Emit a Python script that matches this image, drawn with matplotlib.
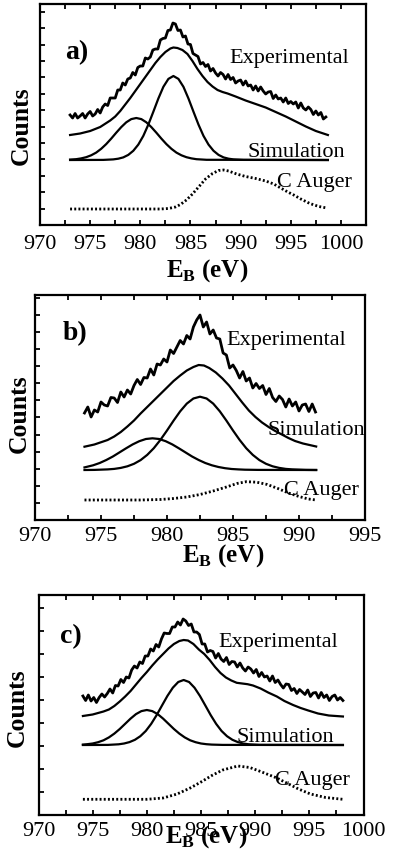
import numpy as np
import matplotlib
matplotlib.use('Agg')
import matplotlib.pyplot as plt
from matplotlib.ticker import MultipleLocator

plt.rcParams['font.family'] = ['Liberation Serif', 'DejaVu Serif']
plt.rcParams['mathtext.fontset'] = 'custom'
plt.rcParams['mathtext.rm'] = 'Liberation Serif'
plt.rcParams['mathtext.bf'] = 'Liberation Serif:bold'

### Panel a ###
a_exp_range = (973.0, 998.5)
a_exp = [110, 107, 111.5, 107, 109, 111.5, 107, 111, 113.5, 109, 111, 115.5, 112, 118, 121,
         119.5, 127, 127, 127, 135, 135, 142, 140, 146, 147, 152.5, 150, 157.5, 159, 159,
         167, 166, 168, 175, 176, 176, 185, 186.5, 187, 194.5, 195, 202, 201, 194.5, 195,
         188, 189, 181, 180.5, 171.5, 170, 168.5, 161, 162.5, 158.5, 160.5, 154, 156.5, 152,
         149, 152.5, 150.5, 146, 150.5, 145.5, 147.5, 142, 144, 145, 140, 144, 139, 140, 135,
         139, 134, 138, 134, 131, 133, 133.5, 126.5, 130, 126, 127, 123, 127, 121.5, 123.5,
         121, 123, 117, 122, 117, 115, 118, 115.5, 110.5, 114, 110, 112.5, 106, 108]
a_sim_e = [973.0, 974.0, 975.0, 976.0, 977.0, 977.5, 978.0, 978.5, 979.0, 979.5, 980.0, 980.5,
           981.0, 981.5, 982.0, 982.5, 983.0, 983.3, 983.7, 984.2, 984.7, 985.2, 985.7, 986.2,
           986.7, 987.2, 987.7, 988.2, 988.7, 989.5, 990.5, 991.5, 992.5, 993.5, 994.5, 995.5,
           996.5, 997.5, 998.7]
a_sim = [90, 91.5, 94, 98, 104.5, 108.5, 114, 120.5, 127, 134, 141, 148, 155, 162, 168, 173,
         176.5, 177.5, 177, 175, 171, 164, 156, 149, 143, 138.5, 135, 133, 131.5, 128.5, 124.5,
         121, 117.5, 113, 108.5, 103.5, 98.5, 94, 90]
a_p1_e = [973.0, 973.6, 974.1, 974.6, 975.1, 975.6, 976.1, 976.6, 977.1, 977.6, 978.1, 978.6,
          979.1, 979.6, 980.1, 980.6, 981.1, 981.6, 982.1, 982.6, 983.1, 983.6, 984.1, 984.6,
          985.1, 985.6, 986.6, 998.7]
a_p1 = [65.4, 65.8, 66.6, 67.8, 69.7, 72.4, 76.2, 80.9, 86.4, 92.3, 97.9, 102.7, 105.9, 107,
        105.9, 102.7, 97.9, 92.3, 86.4, 80.9, 76.2, 72.4, 69.7, 67.8, 66.6, 65.8, 65.2, 65]
a_p2_e = [973.0, 976.3, 977.3, 977.8, 978.3, 978.8, 979.3, 979.8, 980.3, 980.8, 981.3, 981.8,
          982.3, 982.8, 983.3, 983.8, 984.3, 984.8, 985.3, 985.8, 986.3, 986.8, 987.3, 987.8,
          988.3, 988.8, 989.3, 990.3, 998.7]
a_p2 = [65, 65.1, 65.6, 66.3, 67.6, 70.1, 74.2, 80.4, 89.1, 100.4, 113.3, 126.5, 138.2, 146.1,
        149, 146.1, 138.2, 126.5, 113.3, 100.4, 89.1, 80.4, 74.2, 70.1, 67.6, 66.3, 65.6, 65.1, 65]
a_aug_e = [973.0, 982.0, 982.8, 983.5, 984.0, 984.6, 985.2, 985.9, 986.5, 987.2, 987.8, 988.3,
           988.8, 989.6, 990.5, 991.5, 992.5, 993.3, 994.0, 994.7, 995.3, 996.0, 996.9, 997.8,
           998.6]
a_aug = [16, 16, 16.5, 18, 20.5, 25, 31, 39, 46, 51.5, 54.5, 55, 54, 51, 48.5, 46.5, 44, 41, 37,
         33, 30, 26, 21.5, 18.5, 17]

### Panel b ###
b_exp_range = (973.75, 991.25)
b_exp = [107, 113, 103, 110, 108, 118, 115, 114, 122.5, 122, 117.5, 128, 123, 130, 126, 134.5,
         140.5, 135.5, 142.5, 142, 151, 145, 156, 155, 161, 158, 170, 166.5, 173, 179.5, 176,
         184.5, 181, 193, 200, 205, 193, 198, 186, 190, 182, 181, 167, 165, 152, 155, 149.5,
         142, 148.5, 139, 142, 132, 136.5, 131.5, 134.5, 125.5, 131.5, 122.5, 118.5, 124, 120.5,
         113, 121, 114, 118, 109, 115, 116, 108.5, 116, 108]
b_sim_e = [973.75, 974.5, 975.5, 976.0, 976.5, 977.0, 977.5, 978.0, 978.5, 979.0, 979.5, 980.0,
           980.5, 981.0, 981.5, 982.0, 982.4, 982.8, 983.2, 983.7, 984.2, 984.7, 985.2, 985.7,
           986.2, 986.7, 987.2, 987.7, 988.2, 988.7, 989.2, 989.7, 990.3, 991.3]
b_sim = [73.3, 75.5, 80, 83.5, 88, 93.5, 99.5, 106.5, 113, 119.5, 126, 132.5, 139, 144.5, 149.5,
         153, 155, 154.5, 152, 147.5, 141.5, 134.5, 126, 117.5, 109.5, 103, 97.5, 93, 89, 85.5,
         82, 79, 76.5, 73.5]
b_p1_e = [973.75, 974.4, 974.9, 975.4, 975.9, 976.4, 976.9, 977.4, 977.9, 978.4, 978.9, 979.4,
          979.9, 980.4, 980.9, 981.4, 981.9, 982.4, 982.9, 983.4, 983.9, 984.4, 984.9, 985.4,
          985.9, 986.9, 991.3]
b_p1 = [52.6, 54.7, 57.0, 60.0, 63.5, 67.6, 71.7, 75.6, 78.8, 81.0, 81.7, 81.0, 78.8, 75.6, 71.7,
        67.6, 63.5, 60.0, 57.0, 54.7, 53.0, 51.8, 51.0, 50.6, 50.3, 50.1, 50]
b_p2_e = [973.75, 974.5, 975.5, 976.0, 976.5, 977.0, 977.5, 978.0, 978.5, 979.0, 979.5, 980.0,
          980.5, 981.0, 981.5, 982.0, 982.5, 983.0, 983.5, 984.0, 984.5, 985.0, 985.5, 986.0,
          986.5, 987.0, 987.5, 988.0, 988.5, 989.0, 989.5, 990.5, 991.3]
b_p2 = [50, 50.1, 50.6, 51.1, 52.1, 53.7, 56.2, 59.9, 65.1, 71.8, 80.1, 89.5, 99.4, 108.7, 116.4,
        121.5, 123.3, 121.5, 116.4, 108.7, 99.4, 89.5, 80.1, 71.8, 65.1, 59.9, 56.2, 53.7, 52.1,
        51.1, 50.6, 50.1, 50]
b_aug_e = [973.75, 978.0, 979.5, 980.5, 981.5, 982.5, 983.5, 984.5, 985.3, 986.0, 986.8, 987.6,
           988.4, 989.2, 990.0, 990.7, 991.3]
b_aug = [20, 20, 20.5, 21.5, 23, 25.5, 29, 33, 36.5, 38.3, 37.8, 35.5, 31.5, 27, 23.5, 21, 20]

### Panel c ###
c_exp_range = (974.1, 998.1)
c_exp = [119, 114.5, 120, 114, 117.5, 112.5, 117.5, 121, 118, 121.5, 126, 122, 129.5, 129, 135.5,
         132.5, 138, 137, 145, 149, 147, 153, 151.5, 159, 159, 166, 164, 170.5, 168, 176, 182,
         181.5, 181.5, 188, 188, 193, 190, 196, 194, 189.5, 191, 183, 183, 180.5, 171, 171, 163,
         164.5, 163.5, 157, 161.5, 156, 153.5, 157.5, 150.5, 153.5, 153, 148, 152, 147, 144, 148,
         146, 142, 145.5, 138.5, 142.5, 138, 139, 134, 139, 132.5, 135, 130.5, 127, 131, 130.5,
         124.5, 126.5, 121.5, 125.5, 123, 120.5, 125, 118.5, 122, 122.5, 117, 122.5, 117.5, 120,
         114.5, 118.5, 120, 115, 117.5, 114.5]
c_sim_e = [974.1, 975.0, 976.0, 976.5, 977.0, 977.5, 978.0, 978.5, 979.0, 979.5, 980.0, 980.5,
           981.0, 981.5, 982.0, 982.5, 983.0, 983.4, 983.8, 984.3, 984.8, 985.3, 985.8, 986.3,
           986.8, 987.3, 987.8, 988.3, 988.8, 989.3, 989.8, 990.5, 991.2, 992.0, 992.7, 993.5,
           994.2, 994.9, 995.8, 996.8, 998.1]
c_sim = [99, 100.5, 103.5, 105.5, 109, 113.5, 118.5, 124, 130.5, 137, 143, 149.5, 155.5, 161,
         166.5, 171, 174, 175, 174.5, 171, 165.5, 161, 155, 148, 142, 137.5, 134.5, 132.2, 131.5,
         130.8, 129.5, 126.5, 122.5, 118.5, 114, 110, 107, 104.5, 101.5, 99.5, 98.5]
c_p1_e = [974.1, 974.5, 975.0, 975.5, 976.0, 976.5, 977.0, 977.5, 978.0, 978.5, 979.0, 979.5,
          980.0, 980.5, 981.0, 981.5, 982.0, 982.5, 983.0, 983.5, 984.0, 984.5, 985.0, 985.5,
          986.0, 987.0, 998.1]
c_p1 = [70.4, 70.8, 71.5, 72.8, 74.7, 77.6, 81.4, 86.0, 91.2, 96.4, 100.9, 103.9, 105, 103.9,
        100.9, 96.4, 91.2, 86.0, 81.4, 77.6, 74.7, 72.8, 71.5, 70.8, 70.4, 70.1, 70]
c_p2_e = [974.1, 976.4, 977.4, 977.9, 978.4, 978.9, 979.4, 979.9, 980.4, 980.9, 981.4, 981.9,
          982.4, 982.9, 983.4, 983.9, 984.4, 984.9, 985.4, 985.9, 986.4, 986.9, 987.4, 987.9,
          988.4, 988.9, 989.4, 990.4, 998.1]
c_p2 = [70, 70.1, 70.7, 71.5, 72.9, 75.2, 78.8, 84.0, 91.1, 99.8, 109.5, 119.1, 127.3, 133.0, 135,
        133.0, 127.3, 119.1, 109.5, 99.8, 91.1, 84.0, 78.8, 75.2, 72.9, 71.5, 70.7, 70.1, 70]
c_aug_e = [974.1, 980.0, 981.5, 982.8, 984.0, 985.0, 986.0, 987.0, 988.4, 989.5, 990.5, 992.0,
           993.0, 994.0, 995.1, 996.5, 998.1]
c_aug = [15.7, 15.7, 17, 21, 27, 33, 39.5, 45, 49, 47.5, 43.5, 37, 31.5, 26, 21, 17.5, 15.7]


def draw_panel(ax, exp_range, exp, sim_e, sim, p1_e, p1, p2_e, p2, aug_e, aug):
    exp_e = np.linspace(exp_range[0], exp_range[1], len(exp))
    ax.plot(exp_e, exp, color='black', lw=2.0)
    ax.plot(sim_e, sim, color='black', lw=1.6)
    ax.plot(p1_e, p1, color='black', lw=1.6)
    ax.plot(p2_e, p2, color='black', lw=1.6)
    ax.plot(aug_e, aug, color='black', lw=2.0, linestyle=(0, (0.7, 0.8)))
    for side in ['left', 'right', 'top', 'bottom']:
        ax.spines[side].set_linewidth(1.6)
    ax.xaxis.set_major_locator(MultipleLocator(5))
    ax.xaxis.set_minor_locator(MultipleLocator(2.5))
    ax.tick_params(axis='x', which='both', direction='in', top=True, bottom=True,
                   length=3.5, width=1.3, labelsize=16)
    ax.tick_params(axis='y', which='both', direction='in', left=True, right=False,
                   length=3.5, width=1.3, labelleft=False)


fig = plt.figure(figsize=(3.96, 8.67), dpi=100)
W, H = 396, 867

# axes boxes in pixels: left, top, right, bottom
ax_a = fig.add_axes([40 / W, 1 - 225 / H, 326 / W, 221 / H])
ax_b = fig.add_axes([35 / W, 1 - 520 / H, 330 / W, 225 / H])
ax_c = fig.add_axes([38.5 / W, 1 - 815 / H, 325 / W, 220 / H])

draw_panel(ax_a, a_exp_range, a_exp, a_sim_e, a_sim, a_p1_e, a_p1, a_p2_e, a_p2, a_aug_e, a_aug)
draw_panel(ax_b, b_exp_range, b_exp, b_sim_e, b_sim, b_p1_e, b_p1, b_p2_e, b_p2, b_aug_e, b_aug)
draw_panel(ax_c, c_exp_range, c_exp, c_sim_e, c_sim, c_p1_e, c_p1, c_p2_e, c_p2, c_aug_e, c_aug)

ax_a.set_xlim(970, 1002.5)
ax_a.set_ylim(0, 221)
ax_a.yaxis.set_major_locator(MultipleLocator(16.4))
ax_a.tick_params(axis='x', pad=7)

ax_b.set_xlim(970, 995)
ax_b.set_ylim(0, 225)
ax_b.yaxis.set_major_locator(MultipleLocator(17.1))
ax_b.tick_params(axis='x', pad=5)

ax_c.set_xlim(970, 1000)
ax_c.set_ylim(0, 220)
ax_c.yaxis.set_major_locator(MultipleLocator(23))
ax_c.tick_params(axis='x', pad=5)

xlab = r'$\mathbf{E}_{\mathbf{B}}$ (eV)'
label_pos = [(ax_a, -0.058, 0.448, 0.512, -0.204),
             (ax_b, -0.048, 0.471, 0.57, -0.158),
             (ax_c, -0.065, 0.49, 0.515, -0.098)]
for ax, yx, yy, xx, xy in label_pos:
    ax.set_ylabel('Counts', fontsize=18.5, fontweight='bold', va='center')
    ax.yaxis.set_label_coords(yx, yy)
    ax.set_xlabel(xlab, fontsize=18, fontweight='bold', va='center')
    ax.xaxis.set_label_coords(xx, xy)

# panel tags and curve names
ax_a.text(972.5, 166, 'a)', fontsize=20, fontweight='bold')
ax_a.text(988.9, 162, 'Experimental', fontsize=16)
ax_a.text(990.7, 68, 'Simulation', fontsize=16)
ax_a.text(993.6, 38, 'C Auger', fontsize=16)

ax_b.text(972.1, 180, 'b)', fontsize=20, fontweight='bold')
ax_b.text(984.5, 175, 'Experimental', fontsize=16)
ax_b.text(987.6, 85, 'Simulation', fontsize=16)
ax_b.text(988.9, 25, 'C Auger', fontsize=16)

ax_c.text(972.0, 172, 'c)', fontsize=20, fontweight='bold')
ax_c.text(986.6, 168, 'Experimental', fontsize=16)
ax_c.text(988.3, 73, 'Simulation', fontsize=16)
ax_c.text(991.8, 30, 'C Auger', fontsize=16)

fig.savefig('out.png', dpi=100)
